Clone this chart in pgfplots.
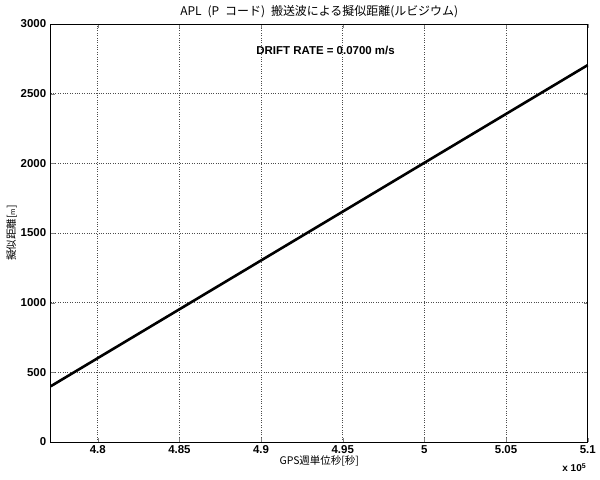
\documentclass[border=0pt]{standalone}
\usepackage{fontspec}
\setmainfont{Liberation Sans}
\newfontfamily\cjk{Noto Sans CJK JP}
\usepackage{pgfplots}
\pgfplotsset{compat=1.18}
\begin{document}
\begin{tikzpicture}[x=1bp,y=1bp]
\useasboundingbox (-50.7,-38) rectangle (549.3,442);
\begin{axis}[
    at={(0,0)}, anchor=south west,
    scale only axis,
    width=537bp, height=418bp,
    xmin=477120, xmax=510000,
    ymin=0, ymax=3000,
    xtick={480000,485000,490000,495000,500000,505000,510000},
    xticklabels={4.8,4.85,4.9,4.95,5,5.05,5.1},
    ytick={0,500,1000,1500,2000,2500,3000},
    scaled x ticks=false,
    /pgf/number format/assume math mode=true,
    /pgf/number format/set thousands separator={},
    tick label style={font=\fontsize{11.5}{12}\selectfont\bfseries},
    yticklabel style={xshift=-1bp},
    tick align=inside,
    major tick length=4bp,
    grid=major,
    major grid style={black!70, dotted, line width=0.6pt},
    axis line style={black, line width=0.9pt},
    xlabel={\cjk GPS週単位秒[秒]},
    ylabel={\cjk 擬似距離[{\scriptsize m}]},
    label style={font=\fontsize{10.5}{12}\selectfont},
    xlabel style={yshift=5bp},
    ylabel style={yshift=-3bp},
    title={\cjk APL\enspace(P\enspace コード)\enspace 搬送波による擬似距離(ルビジウム)},
    title style={font=\fontsize{12}{12}\selectfont, yshift=-3bp},
    clip=false,
]
\addplot[black, line width=2.6pt] coordinates {
    (477120, 400)
    (510000, 2705)
};
\node[font=\fontsize{11.5}{12}\selectfont\bfseries] at (axis cs:493950,2812) {DRIFT RATE = 0.0700 m/s};
\node[font=\fontsize{10}{12}\selectfont\bfseries, anchor=north east] at (rel axis cs:1,0) [yshift=-18bp, xshift=2bp] {x 10$^{\mathbf{5}}$};
\end{axis}
\end{tikzpicture}
\end{document}
